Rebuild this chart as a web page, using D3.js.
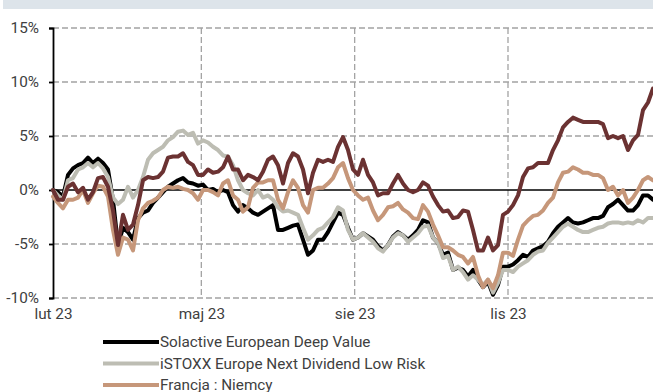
<!DOCTYPE html>
<html>
<head>
<meta charset="utf-8">
<script src="https://cdn.jsdelivr.net/npm/d3@7"></script>
<style>
  html, body { margin: 0; padding: 0; background: #fff; }
  svg { display: block; }
  text { font-family: Roboto, "Open Sans", sans-serif; }
</style>
</head>
<body>
<script>
// Sampling: one observation every 3 days from 1 Feb 2023 to 27 Jan 2024
const startDate = new Date(2023, 1, 1);
const endDate = new Date(2024, 0, 27);
const stepDays = 3;

// Relative performance, % (cumulative since start)
const solactive = [
  0.0,-0.2,-0.6,1.4,2.0,2.3,2.5,3.0,2.5,2.9,2.5,1.9,-0.9,-5.1,-3.5,-3.9,-4.6,-2.6,-2.1,-1.9,
  -1.2,-0.7,-0.2,0.3,0.6,0.9,1.1,0.7,0.6,0.4,0.5,0.0,0.1,-0.2,0.0,-0.2,-1.4,-2.0,-1.4,-1.7,
  -2.1,-2.3,-2.0,-1.7,-1.4,-3.7,-3.7,-3.5,-3.3,-3.2,-4.6,-6.0,-5.6,-4.6,-4.6,-3.9,-3.0,-2.1,-2.3,-3.5,
  -4.6,-4.4,-4.0,-4.3,-4.6,-5.2,-5.6,-5.1,-4.3,-3.9,-4.2,-4.6,-4.2,-3.7,-2.8,-3.0,-4.4,-4.9,-6.0,-5.8,
  -7.4,-7.2,-7.4,-8.0,-7.4,-8.3,-9.0,-8.5,-9.7,-8.8,-7.1,-7.1,-6.9,-6.5,-6.0,-6.2,-5.6,-5.4,-5.2,-4.8,
  -4.0,-3.4,-3.0,-2.6,-3.0,-3.1,-3.0,-2.8,-2.6,-2.6,-2.4,-1.6,-1.3,-0.9,-1.4,-1.9,-1.9,-1.4,-0.5,-0.5,
  -0.9
];
const istoxx = [
  0.0,-0.5,-0.9,0.9,1.1,1.9,2.1,2.5,2.1,2.5,2.0,1.2,-0.7,-1.3,-0.9,0.3,-0.7,0.0,1.2,2.8,
  3.4,3.7,4.0,4.6,4.9,5.4,5.5,5.1,5.3,4.3,4.6,4.4,4.0,3.7,3.2,3.1,2.3,0.9,0.0,-0.3,
  -0.5,0.0,-0.7,-0.5,-0.9,-1.6,-2.0,-1.9,-2.1,-2.3,-3.5,-4.6,-4.2,-3.7,-3.5,-3.0,-2.5,-1.6,-1.9,-3.7,
  -4.6,-4.4,-4.0,-4.4,-4.8,-5.4,-5.7,-5.1,-4.4,-4.0,-4.2,-4.8,-4.4,-4.0,-3.4,-3.3,-4.4,-4.9,-6.3,-6.1,
  -7.4,-7.1,-7.6,-8.3,-7.9,-8.3,-8.8,-8.3,-9.5,-8.6,-7.4,-7.4,-7.6,-7.1,-6.8,-6.5,-6.0,-5.7,-5.6,-4.9,
  -4.4,-3.9,-3.4,-3.1,-3.4,-3.7,-3.9,-3.9,-3.7,-3.5,-3.4,-3.1,-3.0,-3.0,-3.1,-3.0,-3.1,-2.8,-3.0,-2.6,
  -2.6
];
const franceGermany = [
  -0.6,-1.2,-1.7,-0.9,-0.9,-0.7,0.0,-1.2,-0.3,0.4,0.3,-0.6,-3.7,-6.0,-4.4,-4.6,-5.6,-2.8,-1.7,-1.2,
  -1.0,-0.7,0.0,0.3,0.2,0.3,0.1,0.0,-0.3,-0.9,0.0,0.0,-0.2,-0.5,0.6,0.9,-0.5,-0.9,-2.0,-1.6,
  0.2,0.7,0.7,0.9,0.9,-0.9,-1.7,-0.2,0.9,0.2,-1.4,-2.1,0.0,0.2,0.2,0.6,1.1,2.1,2.5,1.1,
  0.0,-0.5,-0.9,-0.7,-1.9,-2.8,-2.3,-1.6,-1.5,-1.2,-1.8,-2.1,-2.6,-2.7,-1.4,-2.0,-3.2,-4.2,-5.3,-5.3,
  -5.6,-6.0,-6.2,-6.8,-6.2,-7.9,-9.0,-8.3,-9.1,-7.9,-5.8,-5.8,-6.1,-4.6,-3.3,-2.8,-2.4,-2.3,-1.9,-1.2,
  -0.7,0.7,1.6,1.7,2.1,1.9,1.6,1.6,1.4,1.4,1.1,0.0,0.3,-0.5,0.0,-1.2,-0.7,0.0,0.9,1.2,
  0.9
];
const brownSeries = [
  0.0,-0.9,-0.9,0.3,0.6,-0.2,0.2,-0.9,-0.2,1.1,1.2,0.3,-1.9,-5.1,-2.3,-3.7,-3.2,-1.4,0.9,1.2,
  1.1,1.2,1.7,3.0,3.1,3.1,3.4,2.6,2.3,1.4,1.4,1.9,1.6,1.7,2.1,3.1,1.9,1.9,0.9,1.4,
  1.2,0.9,1.7,2.8,3.1,2.3,0.6,2.5,3.4,3.1,1.9,-0.3,1.6,2.8,2.6,2.8,2.6,4.0,4.9,3.7,
  1.9,1.4,2.8,1.4,0.7,-0.5,-0.3,-0.3,0.6,1.4,0.6,0.0,-0.2,0.0,0.7,0.4,-0.6,-1.4,-2.0,-1.9,
  -2.6,-2.5,-1.9,-2.0,-3.7,-5.6,-5.6,-4.4,-5.6,-5.1,-2.3,-2.0,-1.4,-0.5,1.2,2.0,2.1,2.5,2.5,2.5,
  3.7,4.6,5.8,6.3,6.7,6.5,6.3,6.3,6.3,6.3,6.1,4.8,5.0,4.8,5.0,3.7,4.6,5.1,7.4,8.1,
  9.4
];

const yTicks = [-10, -5, 0, 5, 10, 15];
const xTickDates = [new Date(2023, 1, 1), new Date(2023, 4, 1), new Date(2023, 7, 1), new Date(2023, 10, 1)];
const xTickLabels = ["lut 23", "maj 23", "sie 23", "lis 23"];

const legendNames = ["Solactive European Deep Value", "iSTOXX Europe Next Dividend Low Risk", "Francja : Niemcy"];
const colors = ["#000000", "#bdbdb3", "#c6977a", "#6b3232"];

const W = 653, H = 392;
const plotLeft = 53, plotRight = 653, plotTop = 28, plotBottom = 298;
const fontSize = 15.3;
const textColor = "#404040";

const dates = d3.timeDay.range(startDate, d3.timeDay.offset(endDate, 1), stepDays);

const svg = d3.select("body").append("svg")
  .attr("width", W).attr("height", H);

// header band
svg.append("rect")
  .attr("x", 3).attr("y", 0).attr("width", W - 3).attr("height", 9)
  .attr("fill", "#dde4ea");

const x = d3.scaleTime().domain([startDate, endDate]).range([plotLeft, plotRight]);
const y = d3.scaleLinear().domain([-10, 15]).range([plotBottom, plotTop]);

// horizontal grid
svg.append("g")
  .selectAll("line")
  .data(yTicks.filter(v => v !== 0))
  .join("line")
  .attr("x1", plotLeft).attr("x2", plotRight)
  .attr("y1", d => y(d)).attr("y2", d => y(d))
  .attr("stroke", "#a3a3a3").attr("stroke-width", 1.3)
  .attr("stroke-dasharray", "6,3");

// vertical grid
svg.append("g")
  .selectAll("line")
  .data(xTickDates.slice(1))
  .join("line")
  .attr("x1", d => x(d)).attr("x2", d => x(d))
  .attr("y1", plotTop).attr("y2", plotBottom)
  .attr("stroke", "#a3a3a3").attr("stroke-width", 1.3)
  .attr("stroke-dasharray", "6,3");

// zero line
svg.append("line")
  .attr("x1", plotLeft).attr("x2", plotRight)
  .attr("y1", y(0)).attr("y2", y(0))
  .attr("stroke", "#000").attr("stroke-width", 1.4);

// y axis
const yAxis = svg.append("g")
  .attr("transform", `translate(${plotLeft},0)`)
  .call(d3.axisLeft(y).tickValues(yTicks).tickSize(4).tickPadding(10).tickFormat(d => d + "%"));
yAxis.select(".domain").attr("stroke", "#000").attr("stroke-width", 1.8);
yAxis.selectAll(".tick line").attr("stroke", "#000").attr("stroke-width", 1.8);
yAxis.selectAll(".tick text")
  .attr("font-size", fontSize).attr("fill", textColor)
  .style("font-family", "Roboto, sans-serif");

// x axis labels
const xAxis = svg.append("g")
  .attr("transform", `translate(0,${plotBottom})`)
  .call(d3.axisBottom(x).tickValues(xTickDates).tickSize(0).tickPadding(10)
    .tickFormat((d, i) => xTickLabels[i]));
xAxis.select(".domain").remove();
xAxis.selectAll(".tick text")
  .attr("font-size", fontSize).attr("fill", textColor)
  .style("font-family", "Roboto, sans-serif");

// series
const allSeries = [solactive, istoxx, franceGermany, brownSeries];
const line = d3.line()
  .x((d, i) => x(dates[i]))
  .y(d => y(d));

svg.append("g")
  .selectAll("path")
  .data(allSeries)
  .join("path")
  .attr("d", d => line(d))
  .attr("fill", "none")
  .attr("stroke", (d, i) => colors[i])
  .attr("stroke-width", 4)
  .attr("stroke-linejoin", "round")
  .attr("stroke-linecap", "round");

// legend
const legend = svg.append("g");
const rows = legend.selectAll("g")
  .data(legendNames)
  .join("g")
  .attr("transform", (d, i) => `translate(103,${342 + i * 21.5})`);
rows.append("line")
  .attr("x1", 0).attr("x2", 56).attr("y1", 0).attr("y2", 0)
  .attr("stroke", (d, i) => colors[i]).attr("stroke-width", 4);
rows.append("text")
  .attr("x", 57).attr("y", 0).attr("dy", "0.34em")
  .attr("font-size", fontSize).attr("fill", textColor)
  .text(d => d);
</script>
</body>
</html>
